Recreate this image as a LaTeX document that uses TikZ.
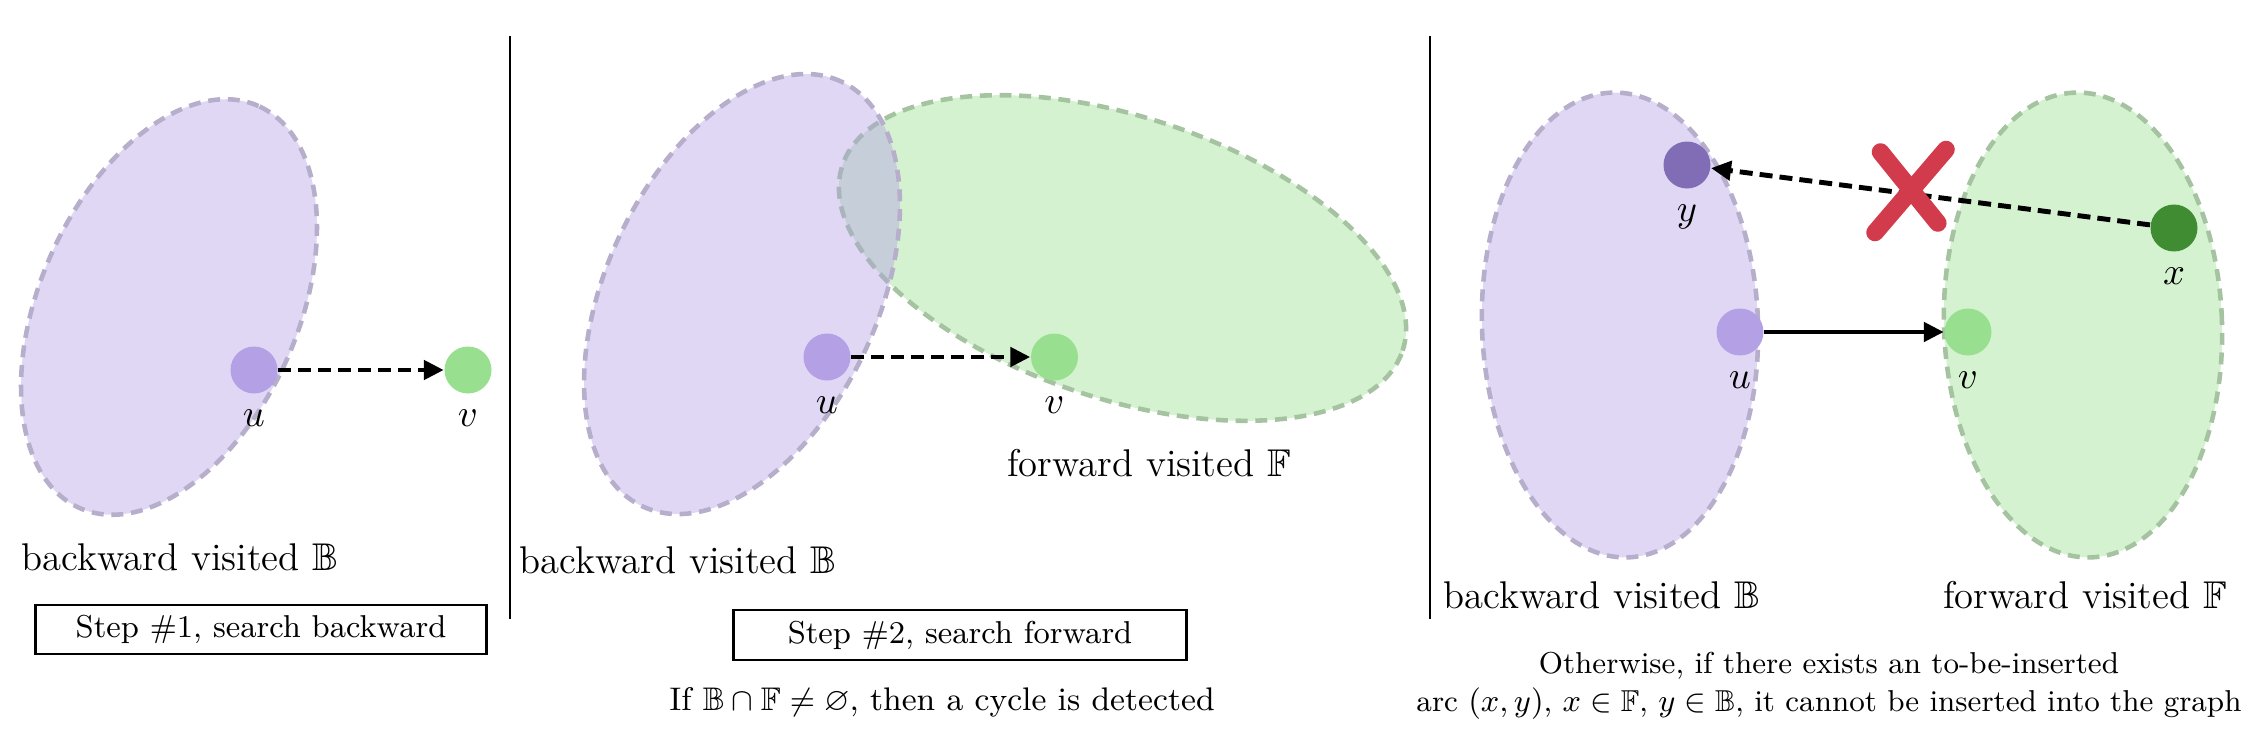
\documentclass[tikz,border=0pt]{standalone}
\usepackage{amsmath,amssymb}
\usepackage{xcolor}
\usepackage{tikz}
\usetikzlibrary{arrows.meta}
\definecolor{bfill}{HTML}{B3A0E5}
\definecolor{ffill}{HTML}{98E090}
\definecolor{bedge}{HTML}{B7AECB}
\definecolor{fedge}{HTML}{A5C3A0}
\definecolor{ydark}{HTML}{806DB5}
\definecolor{xdark}{HTML}{3F8C32}
\definecolor{nope}{HTML}{D23B4B}
\tikzset{
  bset/.style={draw=bedge, fill=bfill, fill opacity=0.42, line width=1.3pt, dash pattern=on 3.4pt off 2.2pt},
  fset/.style={draw=fedge, fill=ffill, fill opacity=0.42, line width=1.3pt, dash pattern=on 3.4pt off 2.2pt},
  vert/.style={circle, inner sep=0pt, minimum size=0.47cm},
  bvert/.style={vert, fill=bfill},
  fvert/.style={vert, fill=ffill},
  lab/.style={font=\fontsize{11}{13}\selectfont},
  tag/.style={label={[lab, label distance=0.8pt]below:$#1$}},
  link/.style={line width=1.4pt, -{Triangle[length=5.7pt,width=5.4pt]}},
  probe/.style={link, dash pattern=on 3.7pt off 2pt},
  sep/.style={line width=0.8pt},
  stepbox/.style={draw, line width=0.8pt, inner sep=0pt, font=\fontsize{9}{11}\selectfont},
  note/.style={align=center, font=\fontsize{9.3}{10.8}\selectfont},
  cross/.style={draw=nope, line width=5pt, line cap=round},
}
\begin{document}
\begin{tikzpicture}
  \useasboundingbox (0,0) rectangle (22.56,7.44);

  % step 1
  \coordinate (B1) at (1.69,4.37);
  \path[bset, rotate around={66:(B1)}] (B1) ellipse [x radius=2.20, y radius=1.29];
  \node[bvert, tag=u] (U1) at (2.54,3.74) {};
  \node[fvert, tag=v] (V1) at (4.68,3.74) {};
  \draw[probe] (U1) -- (V1);
  \node[lab] (Bt1) at (1.80,1.87) {backward visited $\mathbb{B}$};
  \node[stepbox, minimum width=4.51cm, minimum height=0.49cm] (S1) at (2.61,1.145) {Step \#1, search backward};
  \draw[sep] (5.10,7.08) -- (5.10,1.25);

  % step 2
  \coordinate (F2) at (11.225,4.86);
  \coordinate (B2) at (7.42,4.50);
  \path[fset, rotate around={-18.3:(F2)}] (F2) ellipse [x radius=2.95, y radius=1.41];
  \path[bset, rotate around={64.9:(B2)}] (B2) ellipse [x radius=2.345, y radius=1.355];
  \node[bvert, tag=u] (U2) at (8.27,3.87) {};
  \node[fvert, tag=v] (V2) at (10.545,3.87) {};
  \draw[probe] (U2) -- (V2);
  \node[lab] (Ft2) at (11.49,2.81) {forward visited $\mathbb{F}$};
  \node[lab] (Bt2) at (6.78,1.84) {backward visited $\mathbb{B}$};
  \node[stepbox, minimum width=4.525cm, minimum height=0.50cm] (S2) at (9.60,1.09) {Step \#2, search forward};
  \node[note] (N2) at (9.42,0.42) {If $\mathbb{B}\cap\mathbb{F}\neq\varnothing$, then a cycle is detected};
  \draw[sep] (14.30,7.08) -- (14.30,1.25);

  % otherwise
  \coordinate (B3) at (16.20,4.19);
  \coordinate (F3) at (20.83,4.19);
  \path[bset, rotate around={2:(B3)}] (B3) ellipse [x radius=1.38, y radius=2.325];
  \path[fset, rotate around={2:(F3)}] (F3) ellipse [x radius=1.39, y radius=2.325];
  \node[vert, fill=ydark, tag=y] (Y3) at (16.87,5.79) {};
  \node[vert, fill=xdark, tag=x] (X3) at (21.74,5.16) {};
  \node[bvert, tag=u] (U3) at (17.40,4.12) {};
  \node[fvert, tag=v] (V3) at (19.68,4.12) {};
  \draw[link] (U3) -- (V3);
  \draw[probe] (X3) -- (Y3);
  \draw[cross] (18.805,5.92) -- (19.378,5.21);
  \draw[cross] (19.46,5.945) -- (18.75,5.115);
  \node[lab] (Bt3) at (16.02,1.485) {backward visited $\mathbb{B}$};
  \node[lab] (Ft3) at (20.85,1.485) {forward visited $\mathbb{F}$};
  \node[note, font=\fontsize{8.6}{10.8}\selectfont] (N3) at (18.29,0.584) {Otherwise, if there exists an to-be-inserted\\arc $(x,y)$, $x\in\mathbb{F}$, $y\in\mathbb{B}$, it cannot be inserted into the graph};
\end{tikzpicture}
\end{document}
